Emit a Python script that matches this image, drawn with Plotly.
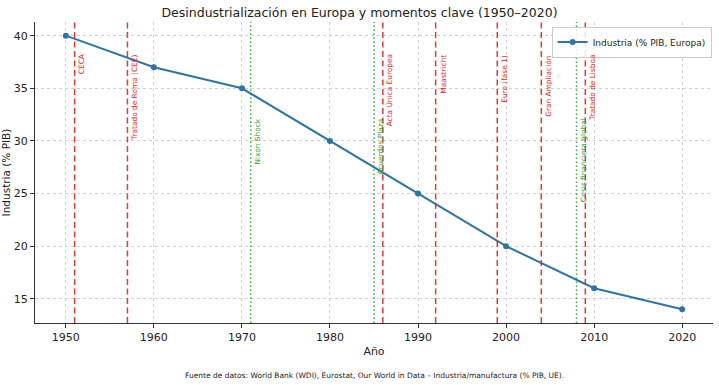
import plotly.graph_objects as go

years = [1950, 1960, 1970, 1980, 1990, 2000, 2010, 2020]
industria = [40, 37, 35, 30, 25, 20, 16, 14]

event_years = [1951, 1957, 1971, 1985, 1986, 1992, 1999, 2004, 2008, 2009]
event_labels = ["CECA", "Tratado de Roma (CEE)", "Nixon Shock", "Acuerdos Plaza",
                "Acta Única Europea", "Maastricht", "Euro (fase 1)", "Gran Ampliación",
                "Crisis financiera global", "Tratado de Lisboa"]
event_types = ["eu", "eu", "global", "global", "eu", "eu", "eu", "eu", "global", "eu"]

x_ticks = [1950, 1960, 1970, 1980, 1990, 2000, 2010, 2020]
y_ticks = [15, 20, 25, 30, 35, 40]

RED = "#d62728"
GREEN = "#2ca02c"
BLUE = "#3274a1"

fig = go.Figure()
fig.add_trace(go.Scatter(
    x=years, y=industria, mode="lines+markers",
    name="Industria (% PIB, Europa)",
    line=dict(color=BLUE, width=2), marker=dict(size=6, color=BLUE),
))

for yr, lab, t in zip(event_years, event_labels, event_types):
    col = RED if t == "eu" else GREEN
    dash = "6px,3.5px" if t == "eu" else "1.5px,2.5px"
    fig.add_shape(type="line", xref="x", yref="paper", x0=yr, x1=yr, y0=0, y1=1,
                  line=dict(color=col, width=1.5, dash=dash), opacity=0.9, layer="above")
    fig.add_annotation(x=yr, y=38.4 if t == "eu" else 32.3, xref="x", yref="y",
                       text=lab, textangle=-90, showarrow=False,
                       xanchor="left", yanchor="top", xshift=0.5,
                       font=dict(size=7.4, color=col, family="DejaVu Sans"))

fig.add_annotation(x=0.5, y=-0.173, xref="paper", yref="paper", yanchor="middle",
                   text="Fuente de datos: World Bank (WDI), Eurostat, Our World in Data – Industria/manufactura (% PIB, UE).",
                   showarrow=False, font=dict(size=7.5, color="#222", family="DejaVu Sans"))

fig.update_layout(
    width=719, height=385,
    margin=dict(l=35, r=6, t=22, b=62),
    paper_bgcolor="white", plot_bgcolor="white",
    font=dict(family="DejaVu Sans", color="#222"),
    title=dict(text="Desindustrialización en Europa y momentos clave (1950–2020)",
               x=0.5, xanchor="center", y=0.968, yanchor="middle",
               font=dict(size=12.5, color="#222")),
    showlegend=True,
    legend=dict(x=0.998, y=0.985, xanchor="right", yanchor="top",
                bgcolor="rgba(255,255,255,0.85)", bordercolor="#ccc", borderwidth=1,
                font=dict(size=9), itemwidth=30, tracegroupgap=0),
    xaxis=dict(range=[1946.5, 2023.5], tickvals=x_ticks, showgrid=True,
               gridcolor="#d0d0d0", griddash="dot", gridwidth=1,
               showline=True, linecolor="#333", linewidth=1.2, ticks="outside",
               ticklen=4, tickcolor="#333", zeroline=False, automargin=False,
               title=dict(text="Año", font=dict(size=11), standoff=4),
               tickfont=dict(size=11)),
    yaxis=dict(range=[12.7, 41.3], tickvals=y_ticks, showgrid=True,
               gridcolor="#d0d0d0", griddash="dot", gridwidth=1,
               showline=True, linecolor="#333", linewidth=1.2, ticks="outside",
               ticklen=4, tickcolor="#333", zeroline=False, automargin=False,
               title=dict(text="Industria (% PIB)", font=dict(size=10.5), standoff=2),
               tickfont=dict(size=11)),
)

fig.write_html("out.html", post_script="document.body.style.margin='0';",
               config={"displayModeBar": False})
